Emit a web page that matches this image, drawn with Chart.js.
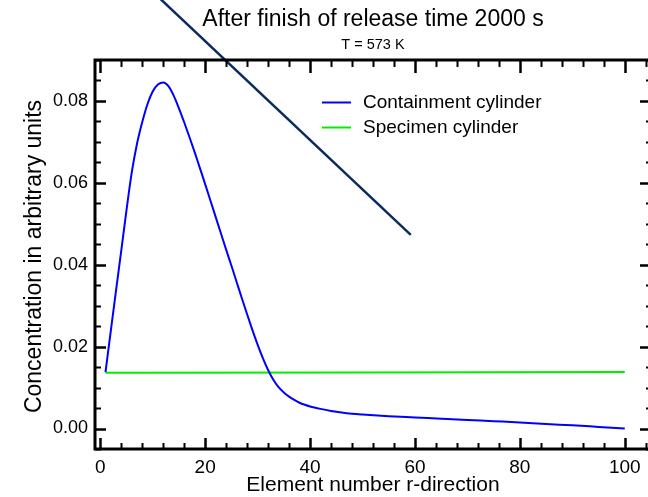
<!DOCTYPE html>
<html><head><meta charset="utf-8">
<script src="https://cdn.jsdelivr.net/npm/chart.js@4"></script>
<style>html,body{margin:0;padding:0;background:#fff;overflow:hidden;width:648px;height:497px}canvas{display:block}</style>
</head><body>
<canvas id="c" width="660" height="497"></canvas>
<script>
const elements = [1,2,3,4,5,6,7,8,9,10,11,12,13,14,15,16,17,18,19,20,21,22,23,24,25,26,27,28,29,30,31,32,33,34,35,36,37,38,39,40,42,44,46,48,50,55,60,65,70,75,80,85,90,95,100];
const containment = [0.0138,0.0237,0.0336,0.0434,0.0533,0.0625,0.0695,0.0748,0.0792,0.0823,0.0840,0.0845,0.0836,0.0813,0.0782,0.0748,0.0712,0.0675,0.0636,0.0597,0.0557,0.0517,0.0477,0.0437,0.0398,0.0358,0.0318,0.0279,0.0241,0.0205,0.0172,0.0143,0.0119,0.0101,0.0088,0.0078,0.0070,0.0063,0.0058,0.0054,0.0048,0.0043,0.0039,0.0036,0.0034,0.0030,0.0027,0.0024,0.0021,0.0018,0.0015,0.0011,0.0008,0.0004,0.0000];
const specimenX = [1, 50, 100];
const specimen = [0.0136, 0.0137, 0.0138];
const guideX = [8, 59.2];
const guideY = [0.1091, 0.0473];
const xTickValues = [0,20,40,60,80,100];
const yTickValues = [0,0.02,0.04,0.06,0.08];
const seriesLabels = ['Containment cylinder','Specimen cylinder'];
const seriesColors = ['#0000ff','#00ee00'];
const titleText = 'After finish of release time 2000 s';
const subtitleText = 'T = 573 K';
const xTitle = 'Element number r-direction';
const yTitle = 'Concentration in arbitrary units';
const FONT = '"Liberation Sans", Arial, Helvetica, sans-serif';
const X_MINOR_STEP = 4, Y_MINOR_STEP = 0.005;

const pts = (xs, ys) => xs.map((x,i)=>({x, y: ys[i]}));

const frame = {
  id:'frame',
  afterDatasetsDraw(chart){
    const {ctx, chartArea:a, scales:{x,y}} = chart;
    ctx.save();
    ctx.strokeStyle='#000'; ctx.lineCap='butt';
    const isMajor=(v,arr)=>arr.some(m=>Math.abs(m-v)<1e-9);
    for(let v=0; v<=x.max+1e-9; v+=X_MINOR_STEP){
      const major=isMajor(v,xTickValues);
      const px=Math.round(x.getPixelForValue(v))+0.5;
      ctx.lineWidth=major?2.5:2;
      ctx.beginPath();
      ctx.moveTo(px,a.bottom); ctx.lineTo(px,a.bottom-(major?11:6));
      ctx.moveTo(px,a.top); ctx.lineTo(px,a.top+(major?13:7));
      ctx.stroke();
    }
    for(let k=Math.ceil(y.min/Y_MINOR_STEP); k*Y_MINOR_STEP<=y.max+1e-9; k++){
      const v=k*Y_MINOR_STEP;
      const major=isMajor(v,yTickValues);
      const py=Math.round(y.getPixelForValue(v))+0.5;
      ctx.lineWidth=major?2.5:2;
      ctx.beginPath();
      ctx.moveTo(a.left,py); ctx.lineTo(a.left+(major?11:6),py);
      ctx.moveTo(a.right,py); ctx.lineTo(a.right-(major?11:5),py);
      ctx.stroke();
    }
    ctx.lineWidth=3;
    ctx.strokeRect(a.left,a.top,a.right-a.left,a.bottom-a.top);
    ctx.restore();
  },
  afterDraw(chart){
    const {ctx, chartArea:a} = chart;
    const cx=(a.left+a.right)/2;
    ctx.save();
    ctx.fillStyle='#000';
    ctx.textAlign='center'; ctx.textBaseline='middle';
    ctx.font='23px '+FONT; ctx.fillText(titleText,cx,20);
    ctx.font='14.5px '+FONT; ctx.fillText(subtitleText,cx,45);
    ctx.font='21px '+FONT; ctx.fillText(xTitle,cx,485);
    ctx.save();
    ctx.translate(35,(a.top+a.bottom)/2+2);
    ctx.rotate(-Math.PI/2);
    ctx.font='23px '+FONT; ctx.fillText(yTitle,0,0);
    ctx.restore();
    ctx.textAlign='left';
    ctx.font='19px '+FONT;
    seriesLabels.forEach((lab,i)=>{
      const yy=a.top+42+i*25;
      ctx.strokeStyle=seriesColors[i]; ctx.lineWidth=2;
      ctx.beginPath(); ctx.moveTo(a.left+227,yy+0.5); ctx.lineTo(a.left+256,yy+0.5); ctx.stroke();
      ctx.fillStyle='#000'; ctx.fillText(lab,a.left+268,yy+1);
    });
    ctx.restore();
  }
};

new Chart(document.getElementById('c'), {
  type:'line',
  data:{datasets:[
    {label:seriesLabels[0], data:pts(elements, containment), borderColor:seriesColors[0], borderWidth:2, pointRadius:0, cubicInterpolationMode:'monotone', fill:false},
    {label:seriesLabels[1], data:pts(specimenX, specimen), borderColor:seriesColors[1], borderWidth:2, pointRadius:0, fill:false},
    {label:'guide', data:pts(guideX, guideY), borderColor:'#0b2a5e', borderWidth:2.5, pointRadius:0, fill:false, clip:false}
  ]},
  options:{
    responsive:false, animation:false, devicePixelRatio:1,
    layout:{padding:{top:60,right:9,left:0,bottom:0}},
    plugins:{legend:{display:false}, title:{display:false}, tooltip:{enabled:false}},
    scales:{
      x:{type:'linear', min:-1, max:105, grid:{display:false, drawTicks:false}, border:{display:false},
        afterBuildTicks:s=>{s.ticks=xTickValues.map(v=>({value:v}));},
        afterFit:s=>{s.height=48;},
        ticks:{padding:7, color:'#000', font:{family:FONT,size:19}, maxRotation:0, autoSkip:false, callback:v=>String(v)}},
      y:{type:'linear', min:-0.005, max:0.09, grid:{display:false, drawTicks:false}, border:{display:false},
        afterBuildTicks:s=>{s.ticks=yTickValues.map(v=>({value:v}));},
        afterFit:s=>{s.width=95;},
        ticks:{padding:7, color:'#000', font:{family:FONT,size:18}, autoSkip:false, callback:v=>v.toFixed(2)}}
    }
  },
  plugins:[frame]
});
</script>
</body></html>
